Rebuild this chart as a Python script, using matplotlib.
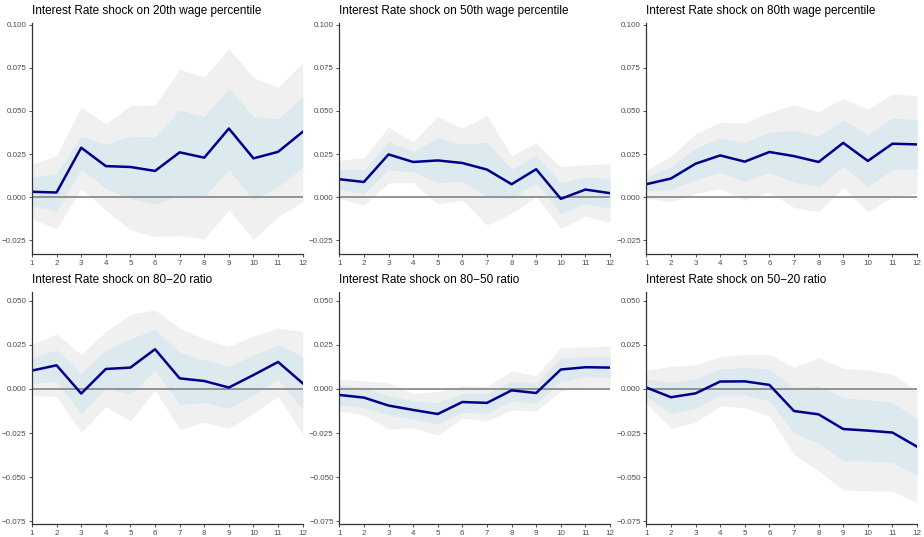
import numpy as np
import matplotlib
matplotlib.use("Agg")
from matplotlib import pyplot as plt

plt.rcParams['font.family'] = ['Liberation Sans', 'DejaVu Sans']

horizon = np.arange(1, 13)

titles = [
    "Interest Rate shock on 20th wage percentile",
    "Interest Rate shock on 50th wage percentile",
    "Interest Rate shock on 80th wage percentile",
    "Interest Rate shock on 80\u221220 ratio",
    "Interest Rate shock on 80\u221250 ratio",
    "Interest Rate shock on 50\u221220 ratio",
]

# point estimates
irf_p20 = [0.0031, 0.0027, 0.0287, 0.0180, 0.0175, 0.0152, 0.0260, 0.0229, 0.0398, 0.0225, 0.0263, 0.0379]
irf_p50 = [0.0104, 0.0088, 0.0248, 0.0204, 0.0213, 0.0198, 0.0160, 0.0075, 0.0162, -0.0010, 0.0044, 0.0023]
irf_p80 = [0.0075, 0.0108, 0.0194, 0.0242, 0.0206, 0.0262, 0.0238, 0.0204, 0.0315, 0.0210, 0.0310, 0.0306]
irf_8020 = [0.0104, 0.0134, -0.0026, 0.0113, 0.0121, 0.0225, 0.0060, 0.0045, 0.0008, 0.0079, 0.0153, 0.0032]
irf_8050 = [-0.0034, -0.0049, -0.0094, -0.0119, -0.0142, -0.0074, -0.0079, -0.0008, -0.0023, 0.0110, 0.0123, 0.0121]
irf_5020 = [0.0008, -0.0047, -0.0025, 0.0042, 0.0043, 0.0023, -0.0125, -0.0144, -0.0227, -0.0236, -0.0247, -0.0327]

# inner band (68%)
lo68_p20 = [-0.0052, -0.0079, 0.0163, 0.0050, -0.0008, -0.0040, 0.0012, 0.0002, 0.0160, -0.0017, 0.0060, 0.0175]
hi68_p20 = [0.0113, 0.0137, 0.0352, 0.0306, 0.0354, 0.0350, 0.0506, 0.0467, 0.0633, 0.0467, 0.0454, 0.0585]
lo68_p50 = [0.0044, 0.0021, 0.0160, 0.0146, 0.0083, 0.0092, 0.0002, -0.0008, 0.0083, -0.0094, -0.0037, -0.0065]
hi68_p50 = [0.0160, 0.0160, 0.0325, 0.0262, 0.0344, 0.0306, 0.0319, 0.0160, 0.0242, 0.0083, 0.0117, 0.0108]
lo68_p80 = [0.0037, 0.0044, 0.0102, 0.0142, 0.0092, 0.0142, 0.0088, 0.0060, 0.0180, 0.0060, 0.0162, 0.0162]
hi68_p80 = [0.0117, 0.0175, 0.0285, 0.0342, 0.0319, 0.0377, 0.0387, 0.0354, 0.0448, 0.0362, 0.0458, 0.0450]
lo68_8020 = [0.0032, 0.0042, -0.0138, 0.0004, -0.0030, 0.0108, -0.0087, -0.0076, -0.0110, -0.0034, 0.0055, -0.0115]
hi68_8020 = [0.0177, 0.0221, 0.0089, 0.0221, 0.0283, 0.0338, 0.0208, 0.0164, 0.0127, 0.0193, 0.0249, 0.0183]
lo68_8050 = [-0.0087, -0.0106, -0.0147, -0.0170, -0.0198, -0.0132, -0.0138, -0.0066, -0.0081, 0.0042, 0.0070, 0.0064]
hi68_8050 = [0.0023, 0.0008, -0.0038, -0.0068, -0.0077, -0.0025, -0.0025, 0.0045, 0.0032, 0.0177, 0.0181, 0.0181]
lo68_5020 = [-0.0043, -0.0138, -0.0110, -0.0034, -0.0034, -0.0066, -0.0251, -0.0308, -0.0406, -0.0408, -0.0417, -0.0487]
hi68_5020 = [0.0055, 0.0038, 0.0057, 0.0113, 0.0121, 0.0113, 0.0008, 0.0019, -0.0049, -0.0062, -0.0076, -0.0170]

# outer band (95%)
lo95_p20 = [-0.0127, -0.0183, 0.0050, -0.0075, -0.0190, -0.0229, -0.0223, -0.0242, -0.0075, -0.0244, -0.0113, -0.0027]
hi95_p20 = [0.0190, 0.0240, 0.0521, 0.0425, 0.0531, 0.0535, 0.0742, 0.0698, 0.0862, 0.0694, 0.0637, 0.0781]
lo95_p50 = [-0.0008, -0.0046, 0.0083, 0.0083, -0.0040, -0.0017, -0.0162, -0.0094, 0.0002, -0.0181, -0.0110, -0.0148]
hi95_p50 = [0.0213, 0.0229, 0.0406, 0.0319, 0.0467, 0.0400, 0.0473, 0.0242, 0.0315, 0.0175, 0.0190, 0.0194]
lo95_p80 = [-0.0008, -0.0027, 0.0021, 0.0050, -0.0017, 0.0029, -0.0060, -0.0085, 0.0056, -0.0085, 0.0002, 0.0021]
hi95_p80 = [0.0156, 0.0237, 0.0367, 0.0435, 0.0431, 0.0492, 0.0535, 0.0496, 0.0573, 0.0512, 0.0598, 0.0588]
lo95_8020 = [-0.0038, -0.0043, -0.0245, -0.0100, -0.0181, -0.0006, -0.0228, -0.0189, -0.0223, -0.0138, -0.0040, -0.0255]
hi95_8020 = [0.0253, 0.0310, 0.0196, 0.0325, 0.0423, 0.0448, 0.0344, 0.0283, 0.0240, 0.0300, 0.0344, 0.0325]
lo95_8050 = [-0.0125, -0.0147, -0.0228, -0.0219, -0.0261, -0.0166, -0.0181, -0.0119, -0.0125, -0.0011, 0.0004, 0.0004]
hi95_8050 = [0.0057, 0.0045, 0.0034, -0.0025, -0.0015, 0.0019, 0.0013, 0.0102, 0.0074, 0.0234, 0.0238, 0.0244]
lo95_5020 = [-0.0081, -0.0223, -0.0189, -0.0096, -0.0106, -0.0153, -0.0370, -0.0465, -0.0572, -0.0578, -0.0578, -0.0644]
hi95_5020 = [0.0108, 0.0127, 0.0136, 0.0183, 0.0196, 0.0196, 0.0121, 0.0177, 0.0117, 0.0108, 0.0083, -0.0011]

irfs = [irf_p20, irf_p50, irf_p80, irf_8020, irf_8050, irf_5020]
lo68 = [lo68_p20, lo68_p50, lo68_p80, lo68_8020, lo68_8050, lo68_5020]
hi68 = [hi68_p20, hi68_p50, hi68_p80, hi68_8020, hi68_8050, hi68_5020]
lo95 = [lo95_p20, lo95_p50, lo95_p80, lo95_8020, lo95_8050, lo95_5020]
hi95 = [hi95_p20, hi95_p50, hi95_p80, hi95_8020, hi95_8050, hi95_5020]

yticks_top = [-0.025, 0.0, 0.025, 0.05, 0.075, 0.1]
yticks_bottom = [-0.075, -0.05, -0.025, 0.0, 0.025, 0.05]

fig = plt.figure(figsize=(9.24, 5.37), dpi=100)

lefts = [0.0346, 0.3672, 0.6995]
width = 0.293
rows = [(0.527, 0.430), (0.0242, 0.432)]

for i in range(6):
    r, c = divmod(i, 3)
    bottom, height = rows[r]
    ax = fig.add_axes([lefts[c], bottom, width, height])

    ax.fill_between(horizon, lo95[i], hi95[i], color='#f0f0f0', linewidth=0)
    ax.fill_between(horizon, lo68[i], hi68[i], color='#dce9ee', linewidth=0)
    ax.axhline(0, color='#8c8c8c', linewidth=1.3)
    ax.plot(horizon, irfs[i], color='#00008b', linewidth=1.8)

    ax.set_xlim(1, 12)
    ax.set_xticks(horizon)
    if r == 0:
        ax.set_ylim(-0.033, 0.101)
        ticks = yticks_top
    else:
        ax.set_ylim(-0.0765, 0.0549)
        ticks = yticks_bottom
    ax.set_yticks(ticks)
    ax.set_yticklabels([f"{t:.3f}".replace('-', '\u2212') for t in ticks])

    for side in ['top', 'right']:
        ax.spines[side].set_visible(False)
    for side in ['left', 'bottom']:
        ax.spines[side].set_color('#333333')
        ax.spines[side].set_linewidth(0.9)
    ax.tick_params(labelsize=5.8, labelcolor='#4d4d4d', color='#333333',
                   length=2.5, width=0.6, pad=1.5)

    ax.text(0.0, 1.025, titles[i], transform=ax.transAxes, fontsize=8.5,
            ha='left', va='bottom', color='black')

fig.savefig('out.png', dpi=100)
